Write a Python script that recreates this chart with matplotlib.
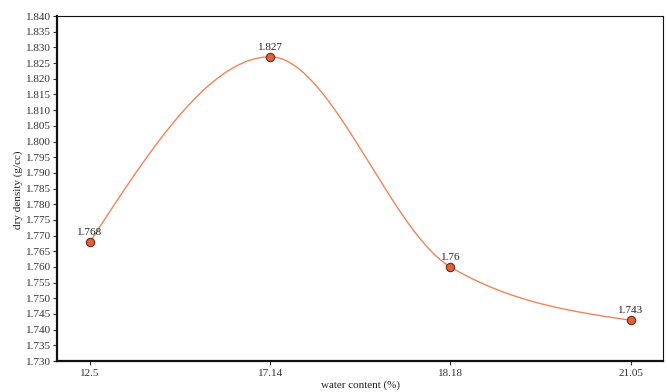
import numpy as np
import matplotlib
matplotlib.use("Agg")
import matplotlib.pyplot as plt

categories = ["12.5", "17.14", "18.18", "21.05"]
dry_density = [1.768, 1.827, 1.760, 1.743]
value_labels = ["1.768", "1.827", "1.76", "1.743"]
y_ticks = [round(1.730 + 0.005 * i, 3) for i in range(23)]

plt.rcParams['font.family'] = ['Liberation Serif', 'DejaVu Serif']

fig = plt.figure(figsize=(6.67, 3.92), dpi=100)
ax = fig.add_axes([0.0855, 0.079, 0.9085, 0.880])

x = np.arange(len(categories), dtype=float)
y = np.array(dry_density)

# monotone cubic interpolation (d3 curveMonotoneX style) for the smooth line
n = len(x)
h = np.diff(x)
s = np.diff(y) / h
m = np.zeros(n)
for i in range(1, n - 1):
    p = (s[i - 1] * h[i] + s[i] * h[i - 1]) / (h[i - 1] + h[i])
    m[i] = (np.sign(s[i - 1]) + np.sign(s[i])) * min(abs(s[i - 1]), abs(s[i]), 0.5 * abs(p))
m[0] = (3 * s[0] - m[1]) / 2
m[-1] = (3 * s[-1] - m[-2]) / 2
xs, ys = [], []
for i in range(n - 1):
    t = np.linspace(0, 1, 80)
    h00 = 2 * t**3 - 3 * t**2 + 1
    h10 = t**3 - 2 * t**2 + t
    h01 = -2 * t**3 + 3 * t**2
    h11 = t**3 - t**2
    xs.append(x[i] + t * h[i])
    ys.append(h00 * y[i] + h10 * h[i] * m[i] + h01 * y[i + 1] + h11 * h[i] * m[i + 1])
xs = np.concatenate(xs)
ys = np.concatenate(ys)

ax.plot(xs, ys, color='#f0845a', lw=1.0, zorder=2)
ax.plot(x, y, 'o', ms=6, mfc='#e2603a', mec='#6b2a14', mew=0.8, zorder=3)
for xi, yi, lab in zip(x, y, value_labels):
    ax.annotate(lab, (xi, yi), xytext=(0, 3.5), textcoords='offset points',
                ha='center', va='bottom', fontsize=8, color='#222222')

ax.set_xlim(-0.183, 3.18)
ax.set_ylim(1.730, 1.840)
ax.set_xticks(x)
ax.set_xticklabels(categories)
ax.set_yticks(y_ticks)
ax.set_yticklabels([f"{v:.3f}" for v in y_ticks])
ax.tick_params(axis='both', labelsize=8, colors='#333333', length=3, width=0.8,
               direction='out')
ax.tick_params(axis='y', pad=1.5)
ax.tick_params(axis='x', pad=3)
for sp in ['left', 'bottom']:
    ax.spines[sp].set_linewidth(1.6)
    ax.spines[sp].set_color('#111111')
for sp in ['top', 'right']:
    ax.spines[sp].set_linewidth(0.8)
    ax.spines[sp].set_color('#111111')

fig.text(0.54, 0.004, "water content (%)", ha='center', va='bottom', fontsize=8, color='#222222')
fig.text(0.027, 0.515, "dry density (g/cc)", ha='center', va='center', rotation=90, fontsize=8, color='#222222')

fig.savefig("out.png", dpi=100)
